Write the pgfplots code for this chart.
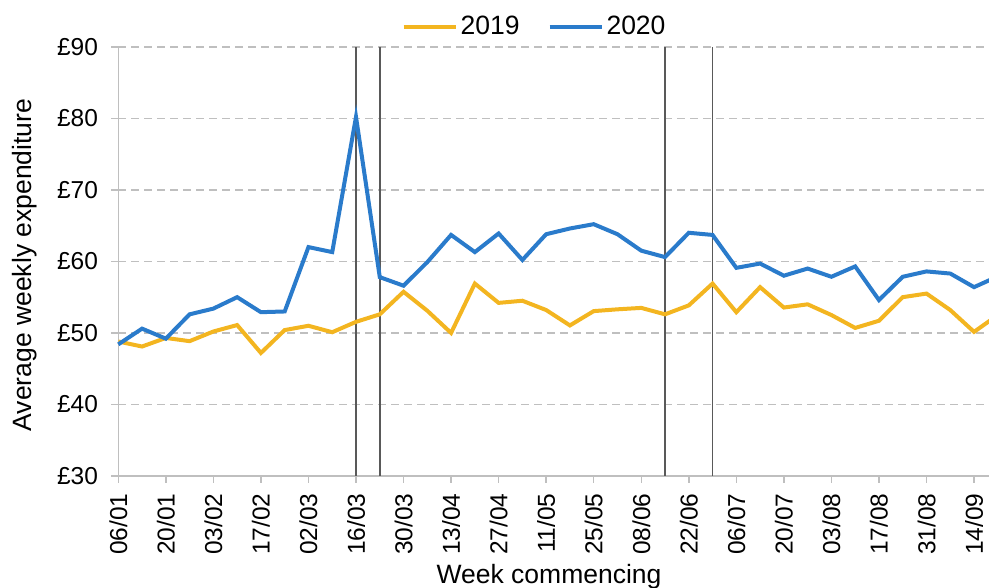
\documentclass[border=0pt]{standalone}
\usepackage{fontspec}
\setmainfont{Liberation Sans}
\usepackage{pgfplots}
\pgfplotsset{compat=1.18}

\definecolor{c2019}{RGB}{243,181,32}
\definecolor{c2020}{RGB}{42,123,203}
\definecolor{gridc}{RGB}{191,191,191}
\definecolor{vline}{RGB}{89,89,89}

\pgfplotstableread{
x y19 y20
0 48.8 48.4
1 48.1 50.6
2 49.3 49.2
3 48.85 52.6
4 50.2 53.4
5 51.1 55.0
6 47.2 52.9
7 50.4 53.0
8 51.0 62.0
9 50.1 61.3
10 51.55 80.2
11 52.6 57.8
12 55.75 56.6
13 53.1 59.9
14 50.0 63.7
15 56.9 61.3
16 54.2 63.9
17 54.5 60.2
18 53.2 63.8
19 51.05 64.6
20 53.05 65.2
21 53.3 63.8
22 53.5 61.5
23 52.6 60.6
24 53.85 64.0
25 56.9 63.7
26 52.9 59.1
27 56.4 59.7
28 53.55 58.0
29 54.0 59.0
30 52.5 57.85
31 50.7 59.3
32 51.7 54.6
33 55.0 57.85
34 55.5 58.6
35 53.2 58.3
36 50.15 56.4
37 52.5 57.9
}\spend

\begin{document}
\begin{tikzpicture}
\begin{axis}[
  scale only axis,
  width=435.35pt, height=214.6pt,
  xmin=0, xmax=36.63, ymin=30, ymax=90,
  clip=false,
  axis lines=left,
  axis line style={-, gridc, line width=0.75pt},
  tick style={gridc, line width=0.75pt},
  tick align=outside,
  major tick length=3.5pt,
  xtick={0,2,...,36},
  xticklabels={06/01,20/01,03/02,17/02,02/03,16/03,30/03,13/04,27/04,11/05,25/05,08/06,22/06,06/07,20/07,03/08,17/08,31/08,14/09},
  ytick={30,40,...,90},
  yticklabels={£30,£40,£50,£60,£70,£80,£90},
  ticklabel style={font=\fontsize{12.25}{14}\selectfont, text=black},
  xticklabel style={rotate=90, anchor=east, inner sep=0pt},
  yticklabel style={anchor=east, inner sep=0pt},
  xticklabel shift=5pt,
  yticklabel shift=6.5pt,
  ymajorgrids,
  major grid style={gridc, line width=0.75pt, dash pattern=on 4pt off 2.5pt},
  legend style={at={(0.4786,1.0466)}, anchor=center, draw=none, fill=none,
    font=\fontsize{13.25}{15}\selectfont, legend columns=2,
    /tikz/every even column/.append style={column sep=12.5pt},
    nodes={inner sep=1.5pt}},
  legend image code/.code={\draw[#1] (0pt,0pt) -- (26pt,0pt);},
]
\addplot[vline, line width=0.9pt, forget plot] coordinates {(10,30) (10,90)};
\addplot[vline, line width=0.9pt, forget plot] coordinates {(11,30) (11,90)};
\addplot[vline, line width=0.9pt, forget plot] coordinates {(23,30) (23,90)};
\addplot[vline, line width=0.9pt, forget plot] coordinates {(25,30) (25,90)};
\addplot[c2019, line width=2pt] table[x=x, y=y19] {\spend};
\addlegendentry{2019}
\addplot[c2020, line width=2pt] table[x=x, y=y20] {\spend};
\addlegendentry{2020}
\coordinate (bl) at (rel axis cs:0,0);
\coordinate (tr) at (rel axis cs:1,1);
\coordinate (yl) at (rel axis cs:0,0.4916);
\coordinate (xl) at (rel axis cs:0.4947,0);
\end{axis}
\node[rotate=90, anchor=south, inner sep=0pt, font=\fontsize{13.25}{15}\selectfont] at ([xshift=-40.65pt]yl) {Average weekly expenditure};
\node[anchor=north, inner sep=0pt, font=\fontsize{13.25}{15}\selectfont] at ([yshift=-44pt]xl) {Week commencing};
\pgfresetboundingbox
\path[use as bounding box] ([xshift=-59.15pt, yshift=-56pt]bl) rectangle ([yshift=23.4pt]tr);
\end{tikzpicture}
\end{document}
